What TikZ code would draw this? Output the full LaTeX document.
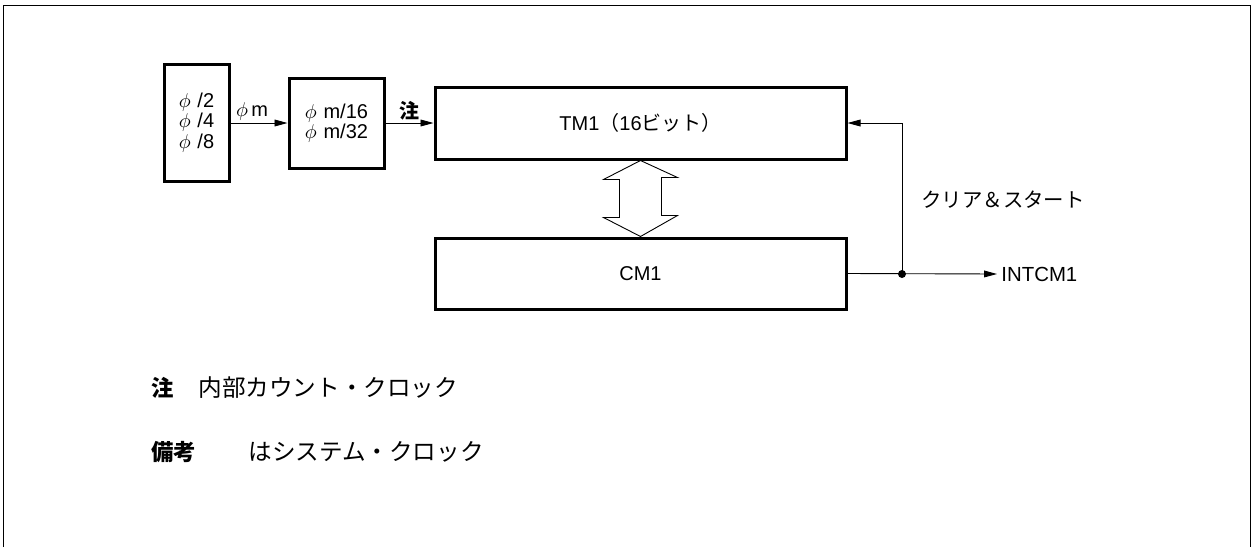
\documentclass[tikz,border=0pt]{standalone}
\usepackage{fontspec}
\setmainfont{Liberation Sans}
\newfontfamily\cjk{Noto Sans CJK JP}
\usetikzlibrary{arrows.meta,calc}

\begin{document}
\begin{tikzpicture}[x=0.5pt,y=-0.5pt,
    blk/.style={draw,line width=1.5pt,inner sep=0pt,align=center},
    sig/.style={-{Triangle[length=6.5pt,width=3.4pt]},line width=0.45pt},
    lbl/.style={font=\fontsize{10}{9}\selectfont},
    jp/.style={font=\cjk\fontsize{10.2}{12}\selectfont},
    note/.style={font=\cjk\fontsize{11.8}{13}\selectfont,anchor=west,inner sep=0pt}]
  \useasboundingbox (0,0) rectangle (1253,547);
  % open frame
  \draw[line width=0.5pt] (3,547) -- (3,5) -- (1250,5) -- (1250,547);

  % blocks
  \node[blk,lbl,minimum width=32.5pt,minimum height=58.5pt] (sel) at (196.5,122.5)
    {$\phi$\,\,/2\\$\phi$\,\,/4\\$\phi$\,\,/8};
  \node[blk,lbl,minimum width=47.5pt,minimum height=45pt] (div) at (336.5,123)
    {$\phi$\,\,m/16\\$\phi$\,\,m/32};
  \node[blk,minimum width=205.5pt,minimum height=36pt] (tm) at (640.5,123)
    {\fontsize{10}{11}\selectfont TM1{\cjk（}16{\cjk ビット）}};
  \node[blk,minimum width=205.5pt,minimum height=35.5pt] (cm) at (640.5,273.5)
    {\fontsize{10}{11}\selectfont CM1};

  % clock path
  \draw[sig] (sel.east |- div.west) -- node[above,lbl,inner sep=1pt,xshift=-3.5pt] {$\phi$\,m} (div.west);
  \draw[sig] (div.east) -- node[above,inner sep=1pt,font=\cjk\bfseries\fontsize{10}{12}\selectfont] {注} (tm.west);

  % transfer between TM1 and CM1
  \draw[line width=0.45pt] (tm.south)
    -- ++(-37,19) -- ++(16,0) -- ++(0,38) -- ++(-16,0)
    -- (cm.north)
    -- ++(37,-21) -- ++(-16,0) -- ++(0,-38) -- ++(16,0) -- cycle;

  % compare match output and clear
  \node[anchor=west,inner sep=0pt,font=\fontsize{10.2}{11}\selectfont] (int) at (1001,274) {INTCM1};
  \coordinate (j) at (902,274);
  \draw[sig] (cm.east) -- ($(int.west)+(-4,0)$);
  \draw[sig] (j) |- (tm.east);
  \fill (j) circle [radius=2pt];
  \node[jp] (clr) at (1003,200) {クリア＆スタート};

  % notes
  \node[note,font=\cjk\bfseries\fontsize{11.2}{13}\selectfont] (n1) at (151,388) {注};
  \node[note] (n1t) at (198,388) {内部カウント・クロック};
  \node[note,font=\cjk\bfseries\fontsize{11.2}{13}\selectfont] (n2) at (151,452) {備考};
  \node[note] (n2t) at (248,452) {はシステム・クロック};
\end{tikzpicture}
\end{document}
